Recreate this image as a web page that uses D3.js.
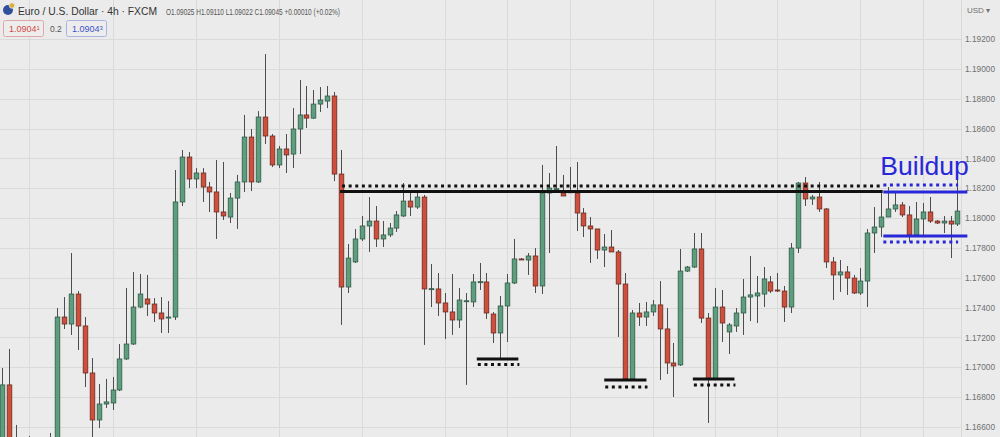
<!DOCTYPE html>
<html><head><meta charset="utf-8">
<script src="https://cdn.jsdelivr.net/npm/d3@7/dist/d3.min.js"></script>
<style>html,body{margin:0;padding:0;background:#ebebeb;overflow:hidden}svg{display:block}</style>
</head><body><svg id="c" width="1000" height="437"></svg>
<script>
// ---- data (EUR/USD 4h, FXCM) ----
const opens = [1.16446,1.16882,1.16446,1.16279,1.16413,1.16480,1.16346,1.16446,1.16480,1.17337,
1.17290,1.17491,1.17277,1.16962,1.16647,1.16754,1.16761,1.16848,1.17056,1.17156,
1.17404,1.17458,1.17424,1.17364,1.17330,1.17337,1.18108,1.18409,1.18262,1.18302,
1.18208,1.18175,1.18041,1.18007,1.18134,1.18242,1.18543,1.18242,1.18677,1.18550,
1.18356,1.18463,1.18429,1.18597,1.18691,1.18670,1.18764,1.18784,1.18818,1.18295,
1.17538,1.17706,1.17860,1.17947,1.17980,1.17860,1.17887,1.17933,1.18014,1.18114,
1.18074,1.18141,1.17525,1.17525,1.17431,1.17371,1.17317,1.17444,1.17438,1.17572,
1.17572,1.17357,1.17230,1.17411,1.17565,1.17726,1.17719,1.17746,1.17545,1.18168,
1.18195,1.18168,1.18175,1.18168,1.18034,1.17947,1.17927,1.17786,1.17806,1.17773,
1.17558,1.16922,1.17364,1.17337,1.17371,1.17418,1.17257,1.17029,1.17016,1.17645,
1.17672,1.17793,1.17330,1.16922,1.17404,1.17237,1.17277,1.17364,1.17471,1.17478,
1.17491,1.17572,1.17518,1.17511,1.17404,1.17799,1.18235,1.18128,1.18141,1.18061,
1.17706,1.17619,1.17639,1.17598,1.17498,1.17578,1.17900,1.17940,1.18007,1.18061,
1.18088,1.18021,1.17887,1.17994,1.18041,1.17980,1.17967,1.17980,1.17960];
const highs = [1.16996,1.17123,1.16614,1.16480,1.16540,1.16513,1.16500,1.16560,1.17397,1.17471,
1.17766,1.17511,1.17337,1.17062,1.16888,1.16922,1.16935,1.17156,1.17531,1.17639,
1.17625,1.17619,1.17464,1.17471,1.17444,1.18322,1.18456,1.18443,1.18335,1.18335,
1.18242,1.18389,1.18376,1.18168,1.18289,1.18691,1.18597,1.18717,1.19099,1.18563,
1.18483,1.18563,1.18737,1.18925,1.18885,1.18858,1.18878,1.18885,1.18845,1.18456,
1.17826,1.17927,1.18014,1.18141,1.18081,1.17980,1.17967,1.18047,1.18235,1.18168,
1.18168,1.18155,1.17692,1.17632,1.17498,1.17625,1.17531,1.17498,1.17625,1.17699,
1.17632,1.17370,1.17478,1.17625,1.17860,1.17732,1.17766,1.17799,1.18356,1.18302,
1.18483,1.18289,1.18342,1.18376,1.18067,1.18007,1.17927,1.17893,1.17920,1.17786,
1.17632,1.17384,1.17431,1.17438,1.17451,1.17578,1.17397,1.17163,1.17793,1.17679,
1.17900,1.17900,1.17364,1.17531,1.17518,1.17297,1.17397,1.17592,1.17746,1.17612,
1.17672,1.17612,1.17632,1.17545,1.17833,1.18242,1.18275,1.18155,1.18242,1.18067,
1.17739,1.17719,1.17679,1.17619,1.17665,1.17927,1.18074,1.18168,1.18208,1.18168,
1.18108,1.18081,1.18108,1.18101,1.18141,1.17987,1.18014,1.18014,1.18268];
const lows = [1.16379,1.16312,1.16245,1.16211,1.16346,1.16279,1.16312,1.16413,1.16446,1.17257,
1.17217,1.17116,1.16868,1.16480,1.16593,1.16727,1.16714,1.16841,1.17049,1.17150,
1.17397,1.17344,1.17304,1.17230,1.17230,1.17317,1.18081,1.18201,1.18201,1.18108,
1.18041,1.17860,1.17987,1.17967,1.17927,1.18175,1.18181,1.18235,1.18496,1.18342,
1.18335,1.18302,1.18335,1.18429,1.18603,1.18664,1.18711,1.18737,1.18248,1.17284,
1.17498,1.17699,1.17846,1.17773,1.17806,1.17806,1.17873,1.17907,1.18007,1.18014,
1.18061,1.17150,1.17404,1.17344,1.17190,1.17217,1.17263,1.16882,1.17404,1.17518,
1.17324,1.17163,1.17062,1.17170,1.17558,1.17719,1.17619,1.17498,1.17491,1.17766,
1.18188,1.18148,1.18175,1.17913,1.17873,1.17699,1.17726,1.17672,1.17773,1.17203,
1.16915,1.16915,1.17277,1.17277,1.17344,1.16915,1.16955,1.16801,1.17009,1.17639,
1.17665,1.17297,1.16627,1.16915,1.17170,1.17089,1.17237,1.17217,1.17310,1.17297,
1.17404,1.17498,1.17505,1.17304,1.17364,1.17766,1.18081,1.18088,1.18041,1.17665,
1.17451,1.17505,1.17485,1.17491,1.17485,1.17404,1.17766,1.17873,1.18007,1.18041,
1.18007,1.17840,1.17873,1.17873,1.17967,1.17960,1.17900,1.17732,1.17947];
const closes = [1.16882,1.16413,1.16312,1.16413,1.16480,1.16346,1.16446,1.16480,1.17337,1.17290,
1.17491,1.17277,1.16962,1.16647,1.16754,1.16768,1.16848,1.17056,1.17156,1.17404,
1.17491,1.17424,1.17364,1.17324,1.17337,1.18108,1.18409,1.18262,1.18302,1.18208,
1.18175,1.18041,1.18014,1.18134,1.18242,1.18543,1.18242,1.18677,1.18550,1.18356,
1.18463,1.18423,1.18597,1.18691,1.18670,1.18764,1.18791,1.18818,1.18295,1.17538,
1.17732,1.17860,1.17947,1.17980,1.17860,1.17887,1.17933,1.18021,1.18114,1.18074,
1.18141,1.17525,1.17527,1.17431,1.17371,1.17317,1.17451,1.17446,1.17572,1.17574,
1.17364,1.17230,1.17411,1.17565,1.17726,1.17724,1.17746,1.17545,1.18168,1.18201,
1.18197,1.18148,1.18176,1.18034,1.17947,1.17927,1.17786,1.17806,1.17773,1.17558,
1.16922,1.17364,1.17337,1.17371,1.17418,1.17257,1.17029,1.17009,1.17645,1.17672,
1.17793,1.17330,1.16922,1.17404,1.17297,1.17284,1.17364,1.17471,1.17485,1.17498,
1.17592,1.17511,1.17511,1.17404,1.17799,1.18235,1.18128,1.18141,1.18061,1.17706,
1.17619,1.17639,1.17598,1.17498,1.17578,1.17900,1.17940,1.18007,1.18061,1.18088,
1.18021,1.17887,1.17994,1.18041,1.17980,1.17967,1.17980,1.17960,1.18047];

const priceTicks = [1.192,1.190,1.188,1.186,1.184,1.182,1.180,1.178,1.176,1.174,1.172,1.170,1.168,1.166];
const priceTickLabels = ["1.19200","1.19000","1.18800","1.18600","1.18400","1.18200","1.18000","1.17800","1.17600","1.17400","1.17200","1.17000","1.16800","1.16600"];
const timeGridCandles = [4,16,28,40,52,64,73,82,94,103,112,124,133];

// annotation levels (price) and spans (candle index)
const resistance = {from:49, to:127.2, solid:1.18178, dotted:1.18215};
const supports = [
  {from:68.6, to:74.6, solid:1.17056, dotted:1.17019},
  {from:87.0, to:93.1, solid:1.16915, dotted:1.16868},
  {from:99.8, to:105.8, solid:1.16922, dotted:1.16882}
];
const buildup = {from:127.3, to:139.0, dotTo:138.1, topSolid:1.18175, topDotted:1.18222, botSolid:1.17880, botDotted:1.17840, label:"Buildup"};

// ---- layout ----
const W = 1000, H = 437, plotR = 961;
const svg = d3.select("#c");
const cats = opens.map((d,i)=>i);
const x = d3.scaleBand().domain(cats).range([-1.76, 960.9]).paddingInner(0.34).paddingOuter(0.17);
const step = x.step();
const cx = i => x(Math.floor(i)) + x.bandwidth()/2 + (i - Math.floor(i))*step;
const xc = i => (i >= opens.length ? cx(opens.length-1) + (i-(opens.length-1))*step : cx(i));
const y = d3.scaleLinear().domain([1.166, 1.192]).range([427, 39]);

svg.append("rect").attr("width",W).attr("height",H).attr("fill","#ebebeb");

// grid
const grid = svg.append("g");
grid.selectAll(".hg").data(priceTicks).join("line")
  .attr("x1",0).attr("x2",plotR).attr("y1",d=>Math.round(y(d))+0.5).attr("y2",d=>Math.round(y(d))+0.5)
  .attr("stroke","#dadada").attr("stroke-width",1);
grid.selectAll(".vg").data(timeGridCandles).join("line")
  .attr("x1",d=>Math.round(xc(d))+0.5).attr("x2",d=>Math.round(xc(d))+0.5).attr("y1",0).attr("y2",H)
  .attr("stroke","#dadada").attr("stroke-width",1);

// price axis
svg.append("line").attr("x1",plotR+0.5).attr("x2",plotR+0.5).attr("y1",0).attr("y2",H).attr("stroke","#d8d8d8");
const axisG = svg.append("g").attr("transform",`translate(${plotR+4},0)`);
const yAxis = d3.axisRight(y).tickValues(priceTicks).tickSize(0).tickPadding(0)
  .tickFormat((d,i)=>priceTickLabels[i]);
axisG.call(yAxis);
axisG.select(".domain").remove();
axisG.selectAll("text").attr("font-family","'Liberation Sans', Arial, sans-serif").attr("font-size","8.3px").attr("fill","#707070");
svg.append("text").attr("x",967).attr("y",13).attr("font-family","'Liberation Sans', Arial, sans-serif")
  .attr("font-size","8px").attr("fill","#707070").text("USD ▾");

// candles
const plot = svg.append("g");
svg.append("clipPath").attr("id","pc").append("rect").attr("x",0).attr("y",0).attr("width",plotR).attr("height",H);
plot.attr("clip-path","url(#pc)");
const cg = plot.selectAll(".cd").data(cats).join("g");
cg.append("line")
  .attr("x1",i=>Math.round(cx(i))+0.5).attr("x2",i=>Math.round(cx(i))+0.5)
  .attr("y1",i=>y(highs[i])).attr("y2",i=>y(lows[i]))
  .attr("stroke","#4d4d4d").attr("stroke-width",1);
cg.append("rect")
  .attr("x",i=>Math.round(cx(i))+0.5-2.3).attr("width",4.6)
  .attr("y",i=>y(Math.max(opens[i],closes[i])))
  .attr("height",i=>Math.max(1,Math.abs(y(opens[i])-y(closes[i]))))
  .attr("fill",i=>closes[i]>=opens[i]?"#5e9d7e":"#cf4f3b")
  .attr("stroke",i=>closes[i]>=opens[i]?"#2f5a45":"#6a2a20").attr("stroke-width",0.8);

// annotations
const ann = svg.append("g");
function hline(g, x1, x2, p, color, dotted){
  g.append("line").attr("x1",x1).attr("x2",x2).attr("y1",y(p)).attr("y2",y(p))
    .attr("stroke",color).attr("stroke-width",3)
    .attr("stroke-dasharray",dotted?"3,3.6":null);
}
hline(ann, xc(resistance.from)-1, xc(resistance.to), resistance.solid, "#111", false);
hline(ann, xc(resistance.from)+1, xc(resistance.to), resistance.dotted, "#111", true);
supports.forEach(s=>{
  hline(ann, xc(s.from), xc(s.to), s.solid, "#111", false);
  hline(ann, xc(s.from)+1, xc(s.to)+1, s.dotted, "#111", true);
});
const blue = "#2828d8";
hline(ann, xc(buildup.from), xc(buildup.to)+3, buildup.topSolid, blue, false);
hline(ann, xc(buildup.from), xc(buildup.dotTo), buildup.topDotted, blue, true);
hline(ann, xc(buildup.from), xc(buildup.to)+3, buildup.botSolid, blue, false);
hline(ann, xc(buildup.from), xc(buildup.dotTo), buildup.botDotted, blue, true);
ann.append("text").attr("x",xc(buildup.from)-3).attr("y",175)
  .attr("font-family","'Liberation Sans', Arial, sans-serif").attr("font-size","26.5px")
  .attr("fill",blue).text(buildup.label);

// header
const hd = svg.append("g").attr("font-family","'Liberation Sans', Arial, sans-serif");
hd.append("circle").attr("cx",8).attr("cy",10).attr("r",5).attr("fill","#2f4f9c");
hd.append("circle").attr("cx",12).attr("cy",5.5).attr("r",2.8).attr("fill","#d9b040").attr("stroke","#ebebeb").attr("stroke-width",0.8);
hd.append("text").attr("x",18).attr("y",15).attr("font-size","11px").attr("fill","#333")
  .attr("textLength",139).attr("lengthAdjust","spacingAndGlyphs").text("Euro / U.S. Dollar · 4h · FXCM");
hd.append("text").attr("x",166).attr("y",15).attr("font-size","8.5px").attr("fill","#555")
  .attr("textLength",174).attr("lengthAdjust","spacingAndGlyphs").text("O1.09025 H1.09110 L1.09022 C1.09045 +0.00010 (+0.02%)");
hd.append("rect").attr("x",3.5).attr("y",20.5).attr("width",40).attr("height",16).attr("rx",2)
  .attr("fill","#ededed").attr("stroke","#e0a8a4");
const t1 = hd.append("text").attr("x",9).attr("y",32).attr("font-size","9px").attr("fill","#d24b45");
t1.append("tspan").text("1.0904"); t1.append("tspan").attr("font-size","6px").attr("dy","-2").text("1");
hd.append("text").attr("x",50).attr("y",32).attr("font-size","8.5px").attr("fill","#555").text("0.2");
hd.append("rect").attr("x",66.5).attr("y",20.5).attr("width",40).attr("height",16).attr("rx",2)
  .attr("fill","#ededed").attr("stroke","#a8b4e0");
const t2 = hd.append("text").attr("x",72).attr("y",32).attr("font-size","9px").attr("fill","#3d52c9");
t2.append("tspan").text("1.0904"); t2.append("tspan").attr("font-size","6px").attr("dy","-2").text("3");
</script></body></html>
